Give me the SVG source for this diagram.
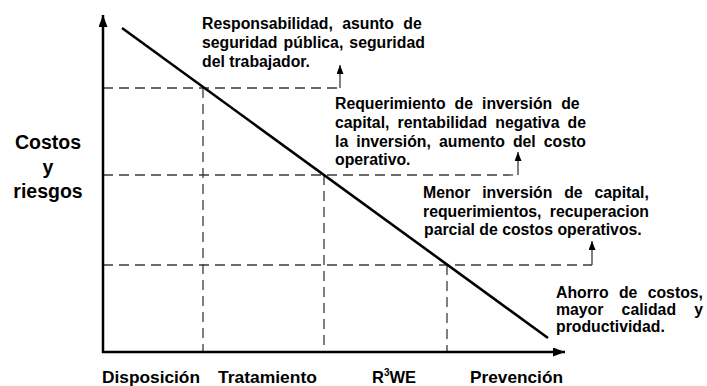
<svg xmlns="http://www.w3.org/2000/svg" width="707" height="386" viewBox="0 0 707 386">
<style>
text{font-family:"Liberation Sans",Arial,sans-serif;font-weight:bold;fill:#000}
.b{font-size:15.8px}
.ax{font-size:16.5px}
.yl{font-size:19.5px}
.axis{stroke:#000;stroke-width:2.5;fill:none}
.diag{stroke:#000;stroke-width:2.6;fill:none}
.dash{stroke:#3a3a3a;stroke-width:1.3;stroke-dasharray:10 6;fill:none}
.up{stroke:#3a3a3a;stroke-width:1.3;fill:none}
</style>
<defs>
<marker id="big" markerUnits="userSpaceOnUse" markerWidth="13" markerHeight="10" refX="12" refY="4.5" orient="auto">
<path d="M0,0 L12,4.5 L0,9 z" fill="#000"/>
</marker>
<marker id="small" markerUnits="userSpaceOnUse" markerWidth="10" markerHeight="8" refX="9" refY="3.5" orient="auto">
<path d="M0,0 L9,3.5 L0,7 z" fill="#000"/>
</marker>
</defs>
<rect width="707" height="386" fill="#fff"/>
<g id="connectors">
<path class="dash" d="M103,88 H340"/>
<path class="dash" d="M103,175 H518"/>
<path class="dash" d="M103,265 H592"/>
<path class="dash" d="M203,88 V352"/>
<path class="dash" d="M324,175 V352"/>
<path class="dash" d="M447,265 V352"/>
<path class="up" d="M340,88 V65" marker-end="url(#small)"/>
<path class="up" d="M518,175 V152" marker-end="url(#small)"/>
<path class="up" d="M592,265 V241" marker-end="url(#small)"/>
<path class="axis" d="M103,353 V15" marker-end="url(#big)"/>
<path class="axis" d="M102,352 H565" marker-end="url(#big)"/>
<path class="diag" d="M122,28 L548,338"/>
</g>
<g id="ylabel">
<text class="yl" x="48" y="149" text-anchor="middle">Costos</text>
<text class="yl" x="48" y="174" text-anchor="middle">y</text>
<text class="yl" x="48" y="198" text-anchor="middle">riesgos</text>
</g>
<g id="note1">
<text class="b" x="202" y="29" word-spacing="5">Responsabilidad, asunto de</text>
<text class="b" x="202" y="48" word-spacing="1.7">seguridad pública, seguridad</text>
<text class="b" x="202" y="67">del trabajador.</text>
</g>
<g id="note2">
<text class="b" x="335" y="109" word-spacing="4.6">Requerimiento de inversión de</text>
<text class="b" x="335" y="128" word-spacing="3.8">capital, rentabilidad negativa de</text>
<text class="b" x="335" y="147" word-spacing="3.7">la inversión, aumento del costo</text>
<text class="b" x="335" y="165">operativo.</text>
</g>
<g id="note3">
<text class="b" x="423" y="198" word-spacing="7.4">Menor inversión de capital,</text>
<text class="b" x="423" y="217" word-spacing="3.9">requerimientos, recuperacion</text>
<text class="b" x="424" y="235">parcial de costos operativos.</text>
</g>
<g id="note4">
<text class="b" x="556" y="298" word-spacing="5.9">Ahorro de costos,</text>
<text class="b" x="556" y="315" word-spacing="13.8">mayor calidad y</text>
<text class="b" x="556" y="332">productividad.</text>
</g>
<g id="xlabels">
<text class="ax" x="102" y="383" textLength="98" lengthAdjust="spacingAndGlyphs">Disposición</text>
<text class="ax" x="218" y="383" textLength="99" lengthAdjust="spacingAndGlyphs">Tratamiento</text>
<text class="ax" x="372" y="383">R<tspan font-size="10" dy="-7">3</tspan><tspan dy="7">WE</tspan></text>
<text class="ax" x="470" y="383" textLength="93" lengthAdjust="spacingAndGlyphs">Prevención</text>
</g>
</svg>
